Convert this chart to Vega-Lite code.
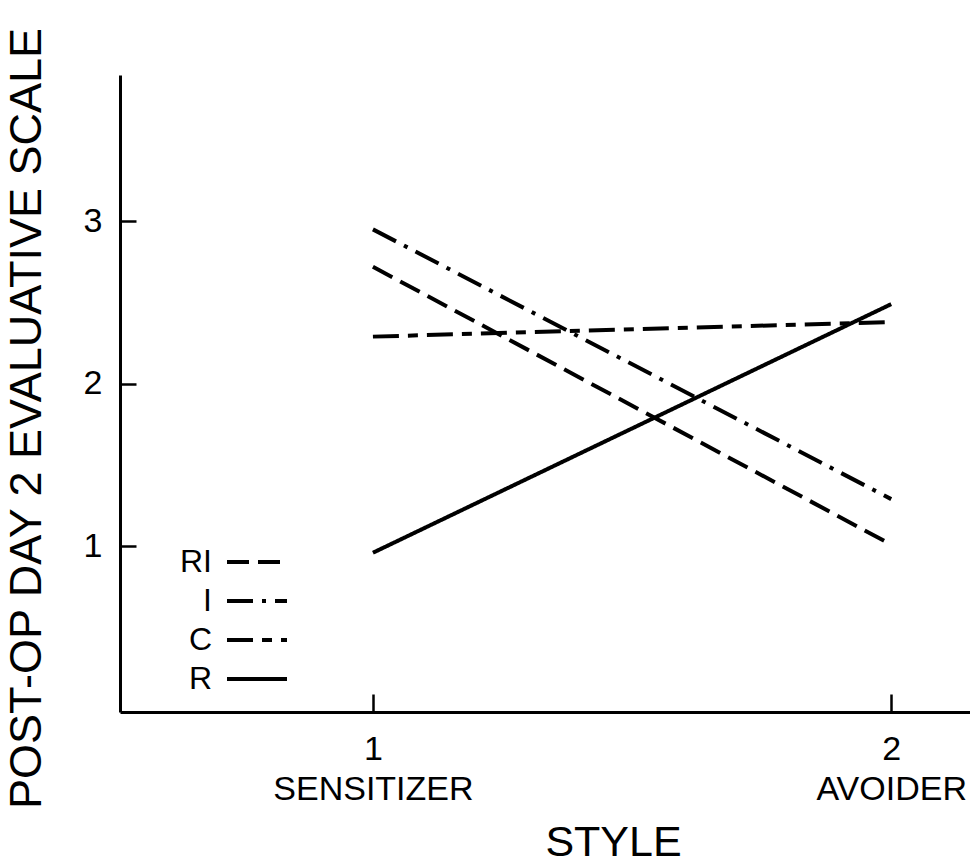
{
  "$schema": "https://vega.github.io/schema/vega-lite/v6.json",
  "width": 850,
  "height": 637,
  "autosize": {"type": "none"},
  "padding": {"left": 120, "top": 75, "right": 0, "bottom": 153},
  "background": "white",
  "config": {
    "view": {"stroke": null},
    "font": "Liberation Sans",
    "axis": {
      "grid": false,
      "domainColor": "black",
      "domainWidth": 3,
      "tickColor": "black",
      "tickWidth": 2.5,
      "labelColor": "black",
      "titleColor": "black",
      "titleFontWeight": "normal",
      "labelFont": "Liberation Sans",
      "titleFont": "Liberation Sans",
      "labelLimit": 400
    }
  },
  "data": {
    "values": [
      {"style": 1, "score": 2.72, "group": "RI"},
      {"style": 2, "score": 1.01, "group": "RI"},
      {"style": 1, "score": 2.95, "group": "I"},
      {"style": 2, "score": 1.29, "group": "I"},
      {"style": 1, "score": 2.29, "group": "C"},
      {"style": 2, "score": 2.38, "group": "C"},
      {"style": 1, "score": 0.96, "group": "R"},
      {"style": 2, "score": 2.49, "group": "R"}
    ]
  },
  "mark": {"type": "line", "color": "black", "strokeWidth": 4, "clip": false},
  "encoding": {
    "x": {
      "field": "style",
      "type": "quantitative",
      "scale": {"domain": [0.512, 2.152], "nice": false, "zero": false},
      "axis": {
        "values": [1, 2],
        "title": "STYLE",
        "titleFontSize": 43,
        "titleAlign": "center",
        "titleBaseline": "alphabetic",
        "titleX": 493,
        "titleY": 143,
        "tickSize": -18,
        "labelFontSize": 34,
        "labelLineHeight": 40,
        "labelBaseline": "alphabetic",
        "labelPadding": 65,
        "labelFlush": false,
        "labelExpr": "datum.value == 1 ? ['1', 'SENSITIZER'] : ['2', 'AVOIDER']"
      }
    },
    "y": {
      "field": "score",
      "type": "quantitative",
      "scale": {"domain": [-0.02, 3.9], "nice": false, "zero": false},
      "axis": {
        "values": [1, 2, 3],
        "title": "POST-OP DAY 2 EVALUATIVE SCALE",
        "titleFontSize": 45,
        "titleAngle": -90,
        "titleAlign": "center",
        "titleBaseline": "alphabetic",
        "titleX": -80,
        "titleY": 343,
        "tickSize": -16,
        "labelFontSize": 34,
        "labelBaseline": "middle",
        "labelPadding": 34,
        "labelFlush": false
      }
    },
    "strokeDash": {
      "field": "group",
      "type": "nominal",
      "scale": {
        "domain": ["RI", "I", "C", "R"],
        "range": [[22, 9], [26, 9, 4, 9], [26, 9, 10, 9], [1, 0]]
      },
      "legend": {
        "title": null,
        "orient": "none",
        "legendX": 120,
        "legendY": 470,
        "symbolType": "M-2,0H2",
        "symbolSize": 900,
        "symbolStrokeWidth": 4,
        "symbolStrokeColor": "black",
        "symbolFillColor": "transparent",
        "rowPadding": 6,
        "labelFontSize": 32,
        "labelColor": "black",
        "labelAlign": "right",
        "labelBaseline": "middle",
        "labelOffset": -62,
        "labelLimit": 200
      }
    }
  }
}
